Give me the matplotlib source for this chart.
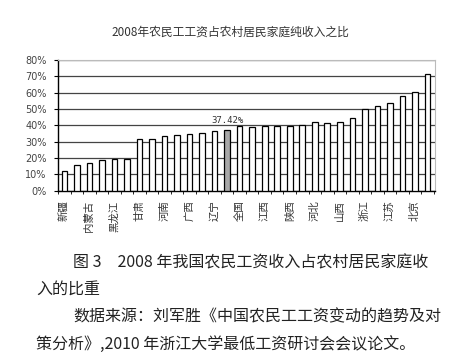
import matplotlib
matplotlib.use("Agg")
import matplotlib.pyplot as plt
from matplotlib.ticker import FixedLocator
import numpy as np

CJK = ["Noto Sans CJK SC", "DejaVu Sans"]

TITLE = "2008年农民工工资占农村居民家庭纯收入之比"

# share of wage income in rural household net income (%), sorted low -> high
values = [12.2, 15.8, 17.0, 18.7, 19.1, 19.5, 31.7, 31.9, 33.6, 34.0,
          34.8, 35.6, 36.4, 37.42, 39.4, 39.0, 39.7, 39.7, 39.8, 40.1,
          41.8, 41.6, 42.2, 44.7, 49.9, 52.1, 53.4, 58.2, 60.6, 71.4]
highlight = 13  # national average bar
highlight_label = "37.42%"

# only every other bar gets a name on the axis
tick_pos = list(range(0, 30, 2))
tick_labels = ["新疆", "内蒙古", "黑龙江", "甘肃", "河南", "广西", "辽宁", "全国",
               "江西", "陕西", "河北", "山西", "浙江", "江苏", "北京"]
yticks = [0, 10, 20, 30, 40, 50, 60, 70, 80]

caption = [
    (73, 263, "图 3　2008 年我国农民工资收入占农村居民家庭收"),
    (36, 289, "入的比重"),
    (73, 317, "数据来源：刘军胜《中国农民工工资变动的趋势及对"),
    (36, 344, "策分析》,2010 年浙江大学最低工资研讨会会议论文。"),
]

W, H = 451, 360


def main():
    fig = plt.figure(figsize=(W / 100, H / 100), dpi=100)
    fig.patch.set_facecolor("white")
    ax = fig.add_axes([57.7 / W, 1 - 190.7 / H, (435 - 57.7) / W, (190.7 - 60) / H])

    x = np.arange(len(values))
    colors = ["white"] * len(values)
    colors[highlight] = "#a8a8a8"
    ax.bar(x, values, width=0.45, color=colors, edgecolor="black",
           linewidth=0.9, zorder=3)

    ax.text(highlight, values[highlight] + 3, highlight_label, ha="center",
            va="bottom", fontsize=6.5, family="DejaVu Sans Mono", color="#333")

    ax.set_xlim(-0.53, 29.6)
    ax.set_ylim(0, 80)
    ax.set_yticks(yticks)
    ax.set_yticklabels(["%d%%" % v for v in yticks], fontsize=7, color="#444")
    ax.yaxis.grid(True, color="#444", lw=0.9)
    ax.set_axisbelow(True)

    ax.set_xticks(tick_pos)
    ax.set_xticklabels(tick_labels, rotation=90, fontsize=7.5, family=CJK,
                       color="#333", va="top")
    ax.xaxis.set_minor_locator(FixedLocator(np.arange(-0.5, 30, 1)))
    ax.tick_params(axis="x", which="major", length=0, pad=7)
    ax.tick_params(axis="x", which="minor", length=2, direction="out")
    ax.tick_params(axis="y", length=3, pad=5)

    for side in ("left", "bottom"):
        ax.spines[side].set_color("black")
        ax.spines[side].set_linewidth(1.0)
    for side in ("top", "right"):
        ax.spines[side].set_color("#bbb")
        ax.spines[side].set_linewidth(0.8)

    fig.text(230 / W, 1 - 32 / H, TITLE, ha="center", va="center",
             fontsize=8.5, family=CJK, color="#333")

    for px, py, line in caption:
        fig.text(px / W, 1 - py / H, line, ha="left", va="center",
                 fontsize=11.5, family=CJK, color="#222")

    fig.savefig("out.png", dpi=100)


if __name__ == "__main__":
    main()
